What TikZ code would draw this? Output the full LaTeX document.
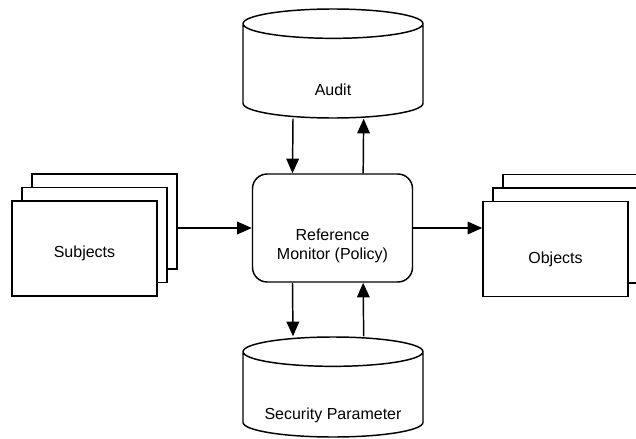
\documentclass[tikz,border=0pt]{standalone}
\usepackage{fontspec}
\setmainfont{Liberation Sans}
\usetikzlibrary{shapes.geometric,arrows.meta}

\tikzset{
  page/.style={draw, fill=white, line width=1.1pt, minimum width=108.75pt, minimum height=71.25pt},
  db/.style={cylinder, shape border rotate=90, aspect=3.3, draw, fill=white, line width=1.1pt, minimum width=135pt, anchor=shape center},
  monitor/.style={draw, fill=white, rounded corners=11pt, line width=1.1pt, minimum width=120pt, minimum height=81pt},
  arr/.style={line width=1.1pt, -{Triangle[length=11pt,width=9.5pt]}}
}

\begin{document}
\begin{tikzpicture}[x=0.75pt, y=-0.75pt, font=\fontsize{12pt}{14pt}\selectfont]
\useasboundingbox (0,0) rectangle (636,439);
\clip (0,0) rectangle (636,439);

% reference monitor
\node [monitor, label={[yshift=-13.5pt, align=center]center:Reference\\Monitor (Policy)}] (rm) at (332.5,228) {};

% databases
\node [db, minimum height=81.75pt] (audit) at (333,63.5) {};
\node [db, minimum height=75pt] (secpar) at (333,387) {};
\node (auditlbl) at (333,90) {Audit};
\node (secparlbl) at (333,415) {Security Parameter};

% subjects
\node [page] (subj3) at (104.5,221.5) {};
\node [page] (subj2) at (94.5,235) {};
\node [page, label={[yshift=-4pt]center:Subjects}] (subj1) at (84.5,248.5) {};

% objects
\node [page] (obj3) at (575.5,222) {};
\node [page] (obj2) at (565.5,235.5) {};
\node [page, label={[yshift=-7.5pt]center:Objects}] (obj1) at (555.5,249) {};

% flows
\draw [arr] (subj3.east |- rm.west) -- (rm.west);
\draw [arr] (rm.east) -- (obj1.west |- rm.east);
\draw [arr] ([xshift=-30pt]audit.south) -- ([xshift=-30pt]rm.north);
\draw [arr] ([xshift=23pt]rm.north) -- ([xshift=23pt]audit.south);
\draw [arr] ([xshift=-30pt]rm.south) -- ([xshift=-30pt]secpar.north);
\draw [arr] ([xshift=23pt]secpar.north) -- ([xshift=23pt]rm.south);
\end{tikzpicture}
\end{document}
